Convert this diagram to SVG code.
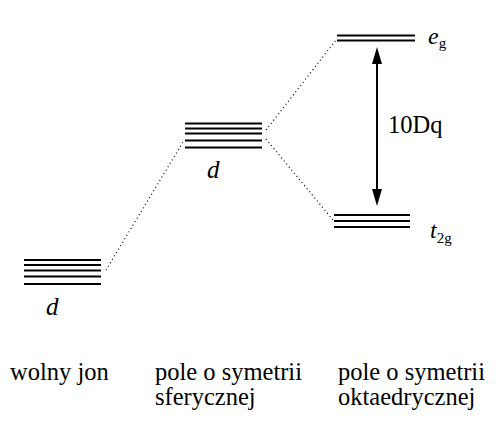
<svg xmlns="http://www.w3.org/2000/svg" width="496" height="423" viewBox="0 0 496 423">
<style>
.lv{stroke:#000;stroke-width:2.2;fill:none}
.dot{stroke:#000;stroke-width:1.2;stroke-dasharray:1 3;fill:none}
.t{font-family:'Times New Roman','Liberation Serif','DejaVu Serif',serif;font-size:24.5px;fill:#000}
.it{font-family:'Times New Roman','Liberation Serif','DejaVu Serif',serif;font-style:italic;fill:#000}
</style>
<rect width="496" height="423" fill="#fff"/>
<g id="free-ion">
<line class="lv" x1="24" y1="260" x2="101" y2="260"/>
<line class="lv" x1="24" y1="265" x2="101" y2="265"/>
<line class="lv" x1="24" y1="270.5" x2="101" y2="270.5"/>
<line class="lv" x1="24" y1="276.5" x2="101" y2="276.5"/>
<line class="lv" x1="24" y1="284" x2="101" y2="284"/>
<text class="it" x="46" y="315" font-size="25">d</text>
</g>
<g id="spherical">
<line class="lv" x1="185" y1="123.5" x2="262" y2="123.5"/>
<line class="lv" x1="185" y1="128.5" x2="262" y2="128.5"/>
<line class="lv" x1="185" y1="133.5" x2="262" y2="133.5"/>
<line class="lv" x1="185" y1="140.5" x2="262" y2="140.5"/>
<line class="lv" x1="185" y1="147.5" x2="262" y2="147.5"/>
<text class="it" x="207" y="178" font-size="25">d</text>
</g>
<g id="eg">
<line class="lv" x1="337" y1="35.5" x2="415" y2="35.5"/>
<line class="lv" x1="337" y1="40.5" x2="415" y2="40.5"/>
<text class="it" x="428" y="44" font-size="24">e<tspan font-style="normal" font-size="15" dy="4">g</tspan></text>
</g>
<g id="t2g">
<line class="lv" x1="334" y1="215" x2="410" y2="215"/>
<line class="lv" x1="334" y1="221" x2="410" y2="221"/>
<line class="lv" x1="334" y1="227" x2="410" y2="227"/>
<text class="it" x="430" y="238" font-size="24">t<tspan font-style="normal" font-size="15" dy="5">2g</tspan></text>
</g>
<g id="connectors">
<line class="dot" x1="106" y1="270" x2="183" y2="142"/>
<line class="dot" x1="266" y1="130" x2="336" y2="40"/>
<line class="dot" x1="266" y1="139" x2="333" y2="220"/>
<line x1="377" y1="60" x2="377" y2="192" stroke="#000" stroke-width="2"/>
<polygon points="377,47 372,64 382,64" fill="#000"/>
<polygon points="377,206 372,189 382,189" fill="#000"/>
<text class="t" x="388" y="133" font-size="24">10Dq</text>
</g>
<g id="labels">
<text class="t" x="10" y="380">wolny jon</text>
<text class="t" x="155" y="380">pole o symetrii</text>
<text class="t" x="155" y="405">sferycznej</text>
<text class="t" x="338" y="380">pole o symetrii</text>
<text class="t" x="338" y="405">oktaedrycznej</text>
</g>
</svg>
